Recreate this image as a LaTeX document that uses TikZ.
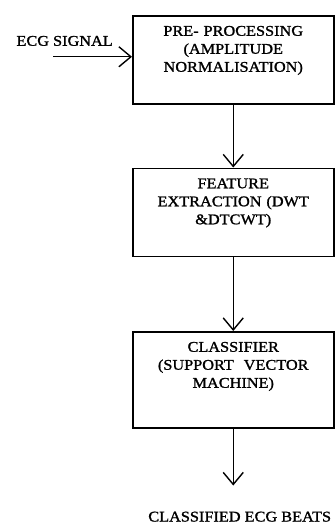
\documentclass[tikz,border=0pt]{standalone}
\usepackage{fontspec}
\setmainfont{Liberation Serif}[FakeStretch=1.1, FakeBold=1.3]
\usetikzlibrary{positioning, arrows.meta, calc}

\begin{document}
\begin{tikzpicture}[
  >={Straight Barb[length=12pt,width=20pt]},
  font=\fontsize{14.8}{18}\selectfont,
  stage/.style={draw, line width=1.5pt, minimum width=201pt,
                text width=185pt, align=center, inner xsep=8pt,
                inner ysep=6pt, text height=14pt, text depth=62pt},
  flow/.style={->, line width=1.4pt},
  lbl/.style={inner sep=0pt},
]
\useasboundingbox (0,0) rectangle (335pt,-525pt);

% pre-processing stage
\node[stage, anchor=north west] (pre) at (132pt,-15pt)
  {PRE- PROCESSING\\ (AMPLITUDE\\ NORMALISATION)};

% feature extraction stage
\node[stage, below=63pt of pre] (feat)
  {FEATURE\\ EXTRACTION (DWT\\ \&DTCWT)};

% classifier stage
\node[stage, below=74pt of feat, text depth=70pt] (clf)
  {CLASSIFIER\\ (SUPPORT\ \ VECTOR\\ MACHINE)};

% input signal
\coordinate (in) at ([xshift=-79pt, yshift=3pt]pre.west);
\draw[flow] (in) -- (in -| pre.west);
\node[lbl, anchor=base east] (sig) at ([xshift=60pt, yshift=11pt]in) {ECG SIGNAL};

% stage links
\draw[flow] (pre) -- (feat);
\draw[flow] (feat) -- (clf);

% output
\coordinate[below=57pt of clf] (out);
\draw[flow] (clf) -- (out);
\node[lbl, anchor=base east] (beats) at ([xshift=98pt, yshift=-36pt]out) {CLASSIFIED ECG BEATS};

\end{tikzpicture}
\end{document}
